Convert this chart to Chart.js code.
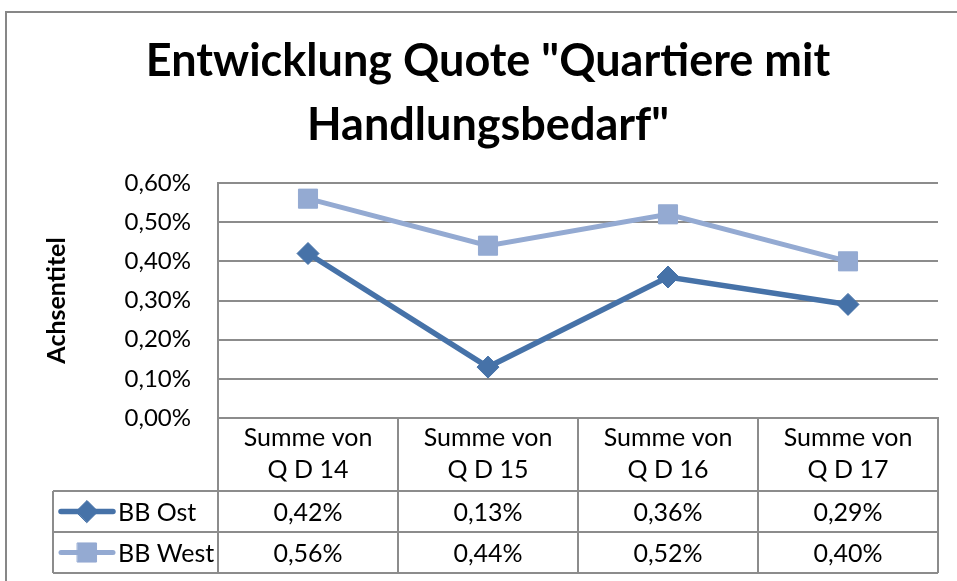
<!DOCTYPE html>
<html>
<head>
<meta charset="utf-8">
<script src="https://cdn.jsdelivr.net/npm/chart.js@4/dist/chart.umd.min.js"></script>
<style>
html,body{margin:0;padding:0;background:#fff;overflow:hidden}
canvas{display:block}
</style>
</head>
<body>
<canvas id="c" width="957" height="581"></canvas>
<script>
// ---- data ----
const titleLines = ['Entwicklung Quote "Quartiere mit', 'Handlungsbedarf"'];
const categories = [['Summe von', 'Q D 14'], ['Summe von', 'Q D 15'], ['Summe von', 'Q D 16'], ['Summe von', 'Q D 17']];
const seriesNames = ['BB Ost', 'BB West'];
const bbOst = [0.42, 0.13, 0.36, 0.29];
const bbWest = [0.56, 0.44, 0.52, 0.40];
const yMin = 0, yMax = 0.6, yStep = 0.1;
const yAxisTitle = 'Achsentitel';

const FONT = 'Lato, "Open Sans", sans-serif';
const GRID = '#8c8c8c';
const fmt = v => v.toFixed(2).replace('.', ',') + '%';

const framePlugin = {
  id: 'frame',
  beforeDraw(chart) {
    const ctx = chart.ctx;
    ctx.save();
    ctx.fillStyle = '#fff';
    ctx.fillRect(0, 0, chart.width, chart.height);
    ctx.strokeStyle = '#878787';
    ctx.lineWidth = 2;
    ctx.strokeRect(6, 12, chart.width + 50, chart.height + 50);
    ctx.restore();
  }
};

function seg(ctx, x1, y1, x2, y2) {
  ctx.beginPath(); ctx.moveTo(x1, y1); ctx.lineTo(x2, y2); ctx.stroke();
}

const tablePlugin = {
  id: 'dataTable',
  afterDraw(chart) {
    const { ctx, chartArea: ca, scales: { x } } = chart;
    const headerH = 73, rowH = 41, legendLeft = 53;
    const top = ca.bottom;
    const r1 = top + headerH;
    const nRows = chart.data.datasets.length;
    const bottom = r1 + rowH * nRows;
    const n = chart.data.labels.length;
    ctx.save();
    ctx.strokeStyle = GRID;
    ctx.lineWidth = 2;
    for (let r = 0; r <= nRows; r++) seg(ctx, legendLeft, r1 + rowH * r, ca.right, r1 + rowH * r);
    const bounds = [ca.left];
    for (let i = 1; i < n; i++) bounds.push((x.getPixelForValue(i - 1) + x.getPixelForValue(i)) / 2);
    bounds.push(ca.right);
    bounds.forEach(b => seg(ctx, b, top, b, bottom));
    seg(ctx, legendLeft, r1, legendLeft, bottom);

    ctx.font = '25px ' + FONT;
    ctx.textBaseline = 'middle';
    chart.data.datasets.forEach((ds, di) => {
      const yc = r1 + rowH * di + rowH / 2;
      ctx.fillStyle = '#000';
      ctx.textAlign = 'center';
      ds.data.forEach((v, i) => ctx.fillText(fmt(v), x.getPixelForValue(i), yc + 1));
      // legend key
      ctx.strokeStyle = ds.borderColor;
      ctx.lineWidth = ds.borderWidth;
      ctx.lineCap = 'round';
      seg(ctx, 61, yc, 113, yc);
      ctx.fillStyle = ds.backgroundColor;
      ctx.lineWidth = 1;
      if (Chart.helpers && Chart.helpers.drawPoint) {
        Chart.helpers.drawPoint(ctx, { pointStyle: ds.pointStyle, radius: ds.pointRadius, borderWidth: 1, rotation: 0 }, 87, yc);
      }
      ctx.fillStyle = '#000';
      ctx.textAlign = 'left';
      ctx.fillText(ds.label, 118, yc + 1);
    });
    ctx.restore();
  }
};

new Chart(document.getElementById('c'), {
  type: 'line',
  data: {
    labels: categories,
    datasets: [
      {
        label: seriesNames[0], data: bbOst,
        borderColor: '#4672a8', backgroundColor: '#4672a8',
        borderWidth: 5.5, pointStyle: 'rectRot', pointRadius: 11, pointBorderWidth: 1,
        tension: 0
      },
      {
        label: seriesNames[1], data: bbWest,
        borderColor: '#94aad2', backgroundColor: '#94aad2',
        borderWidth: 5, pointStyle: 'rect', pointRadius: 13.5, pointBorderWidth: 1,
        tension: 0
      }
    ]
  },
  options: {
    responsive: false,
    animation: false,
    devicePixelRatio: 1,
    layout: { padding: { left: 19, top: 0, right: 0, bottom: 0 } },
    plugins: {
      legend: { display: false },
      tooltip: { enabled: false },
      title: {
        display: true,
        text: titleLines,
        color: '#000',
        font: { family: FONT, size: 45, weight: 'bold', lineHeight: '64px' },
        padding: { top: 29, bottom: 26 }
      }
    },
    scales: {
      x: {
        offset: true,
        grid: { display: false, drawTicks: false },
        border: { display: true, color: GRID, width: 2 },
        ticks: {
          color: '#000', font: { family: FONT, size: 25, lineHeight: '32px' },
          padding: 4, maxRotation: 0, autoSkip: false
        },
        afterFit(scale) { scale.height = 163; }
      },
      y: {
        min: yMin, max: yMax,
        grid: { color: GRID, lineWidth: 2, drawTicks: false },
        border: { display: true, color: GRID, width: 2 },
        ticks: {
          stepSize: yStep, color: '#000', padding: 27,
          font: { family: FONT, size: 24 },
          callback: v => fmt(v)
        },
        title: {
          display: true, text: yAxisTitle, color: '#000',
          font: { family: FONT, size: 25, weight: 'bold', lineHeight: 1.2 },
          padding: { top: 23, bottom: 0 }
        },
        afterFit(scale) { scale.width = 199; }
      },
      yRightSpace: {
        position: 'right',
        display: true,
        grid: { display: false, drawTicks: false },
        border: { display: false },
        ticks: { display: false },
        afterFit(scale) { scale.width = 19; }
      }
    }
  },
  plugins: [framePlugin, tablePlugin]
});
</script>
</body>
</html>
